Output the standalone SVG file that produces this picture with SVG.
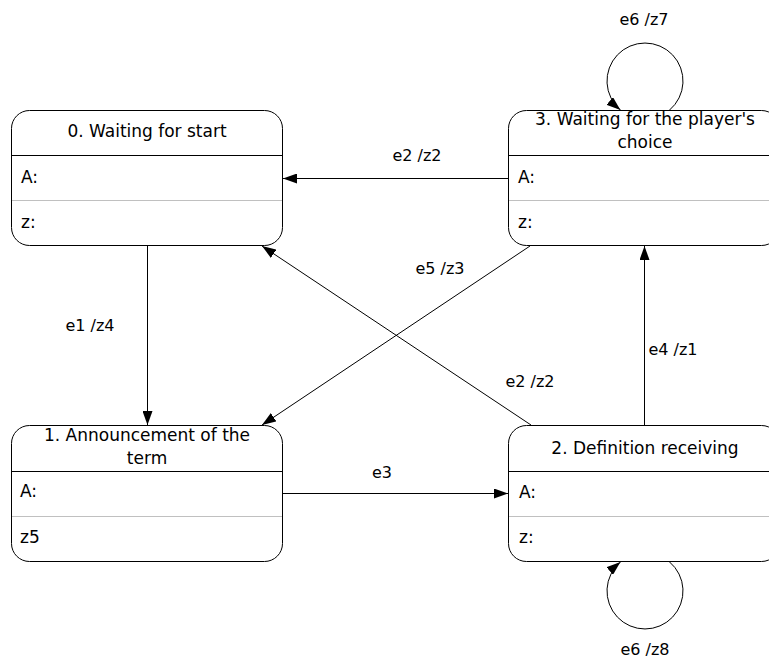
<svg xmlns="http://www.w3.org/2000/svg" width="769" height="663" viewBox="0 0 769 663">
  <defs>
    <style>
      .box { fill: #ffffff; stroke: #000000; stroke-width: 1; }
      .sep { stroke: #000000; stroke-width: 1; }
      .sep2 { stroke: #c0c0c0; stroke-width: 1; }
      .title { font-family: "DejaVu Sans", "Liberation Sans", sans-serif; font-size: 17px; text-anchor: middle; fill: #000; }
      .field { font-family: "DejaVu Sans", "Liberation Sans", sans-serif; font-size: 17px; fill: #000; }
      .lbl { font-family: "DejaVu Sans", "Liberation Sans", sans-serif; font-size: 16px; text-anchor: middle; fill: #000; }
      .edge { fill: none; stroke: #000000; stroke-width: 1; marker-end: url(#arrow); }
    </style>
    <marker id="arrow" markerUnits="userSpaceOnUse" markerWidth="14" markerHeight="10" refX="14" refY="5" orient="auto">
      <path d="M0,0 L14,5 L0,10 z" fill="#000"/>
    </marker>
  </defs>
  <rect width="769" height="663" fill="#ffffff"/>

  <!-- state 0 -->
  <g id="state0">
    <rect class="box" x="11.5" y="110.5" width="271" height="135" rx="18" ry="18"/>
    <line class="sep" x1="11.5" y1="155.5" x2="282.5" y2="155.5"/>
    <line class="sep2" x1="12" y1="200.5" x2="282" y2="200.5"/>
    <text class="title" x="147" y="137">0. Waiting for start</text>
    <text class="field" x="21" y="183">A:</text>
    <text class="field" x="21" y="228">z:</text>
  </g>

  <!-- state 3 -->
  <g id="state3">
    <rect class="box" x="508.5" y="110.5" width="271" height="135" rx="18" ry="18"/>
    <line class="sep" x1="508.5" y1="155.5" x2="779.5" y2="155.5"/>
    <line class="sep2" x1="509" y1="200.5" x2="779" y2="200.5"/>
    <text class="title" x="645" y="125">3. Waiting for the player's</text>
    <text class="title" x="645" y="148">choice</text>
    <text class="field" x="518" y="183">A:</text>
    <text class="field" x="518" y="228">z:</text>
  </g>

  <!-- state 1 -->
  <g id="state1">
    <rect class="box" x="11.5" y="425.5" width="271" height="136" rx="18" ry="18"/>
    <line class="sep" x1="11.5" y1="471.5" x2="282.5" y2="471.5"/>
    <line class="sep2" x1="12" y1="516.5" x2="282" y2="516.5"/>
    <text class="title" x="147" y="441">1. Announcement of the</text>
    <text class="title" x="147" y="464">term</text>
    <text class="field" x="20" y="497">A:</text>
    <text class="field" x="20" y="543">z5</text>
  </g>

  <!-- state 2 -->
  <g id="state2">
    <rect class="box" x="508.5" y="425.5" width="271" height="136" rx="18" ry="18"/>
    <line class="sep" x1="508.5" y1="471.5" x2="779.5" y2="471.5"/>
    <line class="sep2" x1="509" y1="516.5" x2="779" y2="516.5"/>
    <text class="title" x="645" y="454">2. Definition receiving</text>
    <text class="field" x="519" y="498">A:</text>
    <text class="field" x="519" y="543">z:</text>
  </g>

  <!-- transitions -->
  <g id="transitions">
    <path class="edge" d="M147.5,246 L147.5,425"/>
    <path class="edge" d="M508,178.5 L283,178.5"/>
    <path class="edge" d="M530,246 L262,425"/>
    <path class="edge" d="M531,425 L262,246"/>
    <path class="edge" d="M644.5,425 L644.5,246"/>
    <path class="edge" d="M283,493.5 L508,493.5"/>
    <path class="edge" d="M669.6,110 A38,38 0 1 0 620.4,110"/>
    <path class="edge" d="M669.6,562 A38,38 0 1 1 620.4,562"/>

    <text class="lbl" x="90" y="331">e1 /z4</text>
    <text class="lbl" x="417" y="161">e2 /z2</text>
    <text class="lbl" x="440" y="274">e5 /z3</text>
    <text class="lbl" x="530" y="387">e2 /z2</text>
    <text class="lbl" x="673" y="355">e4 /z1</text>
    <text class="lbl" x="382" y="478">e3</text>
    <text class="lbl" x="644" y="25">e6 /z7</text>
    <text class="lbl" x="645" y="655">e6 /z8</text>
  </g>
</svg>
